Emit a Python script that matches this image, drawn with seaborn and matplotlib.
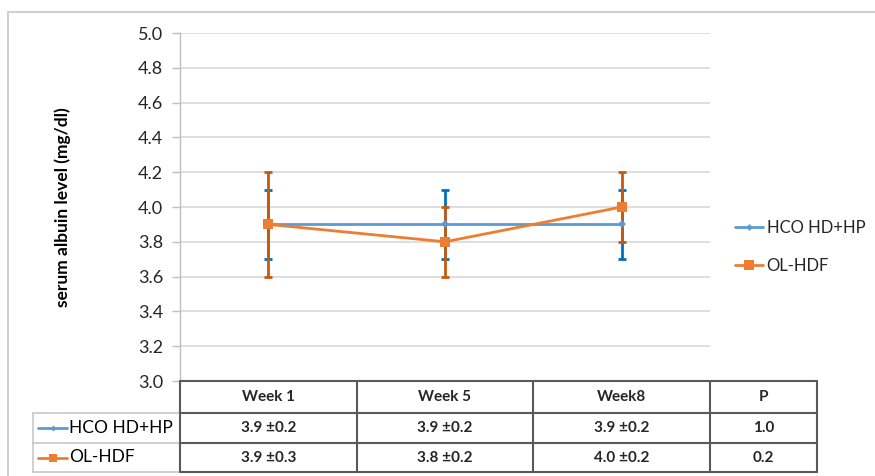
import numpy as np
import pandas as pd
import matplotlib
matplotlib.use("Agg")
import matplotlib.pyplot as plt
from matplotlib.lines import Line2D
import seaborn as sns

#---Data----#
weeks = ["Week 1", "Week 5", "Week8"]
hco_mean = [3.9, 3.9, 3.9]
hco_sd = [0.2, 0.2, 0.2]
ol_mean = [3.9, 3.8, 4.0]
ol_sd = [0.3, 0.2, 0.2]
series_names = ["HCO HD+HP", "OL-HDF"]
p_values = ["1.0", "0.2"]
y_ticks = [3.0, 3.2, 3.4, 3.6, 3.8, 4.0, 4.2, 4.4, 4.6, 4.8, 5.0]

pos = np.arange(len(weeks))
df = pd.DataFrame({
    "pos": np.concatenate([pos, pos]),
    "week": weeks * 2,
    "mean": hco_mean + ol_mean,
    "sd": hco_sd + ol_sd,
    "group": [series_names[0]] * 3 + [series_names[1]] * 3,
})

line_cols = ["#5B9BD5", "#ED7D31"]
err_cols = ["#0070C0", "#C55A11"]
markers = ["D", "s"]
msizes = [4, 7]

#----Render plot----#
sns.set_theme(style="white")
plt.rcParams["font.family"] = ["Lato", "DejaVu Sans"]

W, H = 875, 476
fig = plt.figure(figsize=(W / 100, H / 100), dpi=100)

def fx(px):
    return px / W

def fy(py):
    return 1 - py / H

ax = fig.add_axes([fx(180), fy(381), fx(710) - fx(180), fy(33) - fy(381)])

for i, name in enumerate(series_names):
    sub = df[df["group"] == name]
    ax.errorbar(sub["pos"], sub["mean"], yerr=sub["sd"], fmt="none",
                ecolor=err_cols[i], elinewidth=2, capsize=3, capthick=2, zorder=3 + i)
for i, name in enumerate(series_names):
    sub = df[df["group"] == name]
    sns.lineplot(x=sub["pos"], y=sub["mean"], ax=ax, color=line_cols[i], lw=2,
                 marker=markers[i], markersize=msizes[i], markeredgewidth=0,
                 label=name, zorder=5 + i)

ax.set_xlim(-0.5, len(weeks) - 0.5)
ax.set_ylim(3.0, 5.0)
ax.set_yticks(y_ticks)
ax.set_yticklabels([f"{t:.1f}" for t in y_ticks], fontsize=13, color="#262626")
ax.set_xticks([])
ax.set_xlabel("")
ax.set_ylabel("serum albuin level (mg/dl)", fontsize=12.5, fontweight="bold",
              color="#000000", labelpad=48)
ax.yaxis.grid(True, color="#D9D9D9", lw=1.2)
ax.tick_params(axis="y", length=6, color="#BFBFBF", width=1, pad=6, left=True)
for s in ["top", "right", "bottom"]:
    ax.spines[s].set_visible(False)
ax.spines["left"].set_color("#BFBFBF")
ax.spines["left"].set_linewidth(1)

# Legend on the right
handles = [Line2D([], [], color=line_cols[i], lw=2, marker=markers[i],
                  markersize=msizes[i] - 0.5, markeredgewidth=0) for i in range(2)]
fig.legend(handles, series_names, loc="center left",
           bbox_to_anchor=(fx(735), fy(247)), frameon=False, fontsize=12,
           handlelength=1.7, handletextpad=0.2, labelspacing=1.35,
           borderpad=0, borderaxespad=0)
ax.get_legend().remove()

# Outer chart border
fig.add_artist(Line2D([fx(8), fx(875)], [fy(12), fy(12)], color="#D0D0D0", lw=1.5))
fig.add_artist(Line2D([fx(8), fx(8)], [fy(12), fy(476)], color="#D0D0D0", lw=1.5))

# Data table
dark = "#595959"
light = "#C8C8C8"
col_x = [33, 180, 357, 533, 710, 817]
row_y = [381, 413, 443, 472]
fig.add_artist(Line2D([fx(180), fx(817)], [fy(row_y[0])] * 2, color=dark, lw=1.5))
for r in row_y[1:]:
    fig.add_artist(Line2D([fx(180), fx(817)], [fy(r)] * 2, color=dark, lw=1.5))
    fig.add_artist(Line2D([fx(33), fx(180)], [fy(r)] * 2, color=light, lw=1.2))
for c in col_x[1:]:
    fig.add_artist(Line2D([fx(c)] * 2, [fy(row_y[0]), fy(row_y[-1])], color=dark, lw=1.5))
fig.add_artist(Line2D([fx(33)] * 2, [fy(row_y[1]), fy(row_y[-1])], color=light, lw=1.2))

headers = weeks + ["P"]
for j, h in enumerate(headers):
    cx = (col_x[j + 1] + col_x[j + 2]) / 2
    fig.text(fx(cx), fy((row_y[0] + row_y[1]) / 2), h, ha="center", va="center",
             fontsize=11, fontweight="bold", color="#262626")

means = [hco_mean, ol_mean]
sds = [hco_sd, ol_sd]
for i in range(2):
    cy = fy((row_y[i + 1] + row_y[i + 2]) / 2)
    for j in range(len(weeks)):
        cx = (col_x[j + 1] + col_x[j + 2]) / 2
        fig.text(fx(cx), cy, f"{means[i][j]:.1f} ±{sds[i][j]:.1f}", ha="center",
                 va="center", fontsize=11, fontweight="bold", color="#262626")
    fig.text(fx((col_x[4] + col_x[5]) / 2), cy, p_values[i], ha="center", va="center",
             fontsize=11, fontweight="bold", color="#262626")
    # legend key in the row label cell
    fig.add_artist(Line2D([fx(38), fx(67)], [cy, cy], color=line_cols[i], lw=2))
    fig.add_artist(Line2D([fx(52.5)], [cy], color=line_cols[i], marker=markers[i],
                          markersize=msizes[i] - 1, markeredgewidth=0, lw=0))
    fig.text(fx(69), cy, series_names[i], ha="left", va="center", fontsize=12.5,
             color="#000000")

fig.savefig("out.png", dpi=100)
